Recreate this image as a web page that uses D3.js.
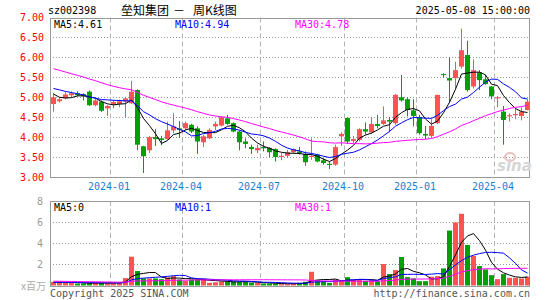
<!DOCTYPE html>
<html>
<head>
<meta charset="utf-8">
<title>垒知集团 - 周K线图</title>
<script src="https://d3js.org/d3.v7.min.js"></script>
<style>
  body { margin: 0; background: #fff; }
  svg text { font-family: "DejaVu Sans Mono", monospace; font-size: 10px; }
</style>
</head>
<body>
<div id="chart"></div>
<script>

// weekly candles, oldest first (2023-10 .. 2025-05)
var opens  = [4.83,4.90,4.98,5.05,5.10,5.08,5.14,4.80,4.89,4.72,
              4.82,4.83,4.89,4.85,5.18,3.77,3.67,4.00,3.97,3.95,
              4.17,4.22,4.22,4.31,4.22,3.87,3.97,4.27,4.29,4.47,
              4.35,4.14,3.89,3.75,3.67,3.75,3.73,3.70,3.50,3.53,
              3.62,3.64,3.58,3.50,3.56,3.42,3.33,3.31,4.02,4.48,
              3.90,3.93,4.20,4.12,4.33,4.33,4.43,4.35,5.00,4.95,
              4.67,4.50,4.08,4.03,4.35,5.58,5.48,5.48,5.77,6.06,
              5.27,5.62,5.45,5.27,4.97,4.64,4.52,4.55,4.53,4.68];
var highs  = [5.10,5.00,5.13,5.15,5.15,5.10,5.17,4.97,4.92,4.81,
              4.93,4.94,5.01,5.41,5.20,3.78,4.03,4.20,4.03,4.39,
              4.60,4.40,4.39,4.33,4.27,4.06,4.22,4.39,4.52,4.56,
              4.37,4.17,3.97,3.81,3.81,3.89,3.75,3.72,3.60,3.68,
              3.72,3.75,3.64,3.97,3.58,3.47,3.39,3.81,4.12,4.50,
              4.03,4.22,4.37,4.50,4.56,4.77,4.50,5.08,5.56,5.00,
              4.95,4.56,4.28,4.45,5.06,5.60,6.00,5.89,6.72,6.42,
              5.95,5.68,5.56,5.28,5.03,4.78,4.60,4.72,4.75,4.95];
var lows   = [4.64,4.87,4.95,5.00,5.02,4.92,4.78,4.77,4.63,4.53,
              4.72,4.75,4.49,4.83,3.67,3.10,3.60,3.78,3.80,3.93,
              4.10,3.98,4.18,4.10,3.58,3.75,3.95,4.18,4.27,4.31,
              4.12,3.67,3.72,3.58,3.60,3.64,3.50,3.39,3.42,3.48,
              3.58,3.56,3.28,3.43,3.37,3.31,3.20,3.28,3.78,3.83,
              3.85,3.89,4.06,4.08,4.22,4.31,4.12,4.31,4.89,4.52,
              4.27,4.06,3.95,4.00,4.33,5.50,4.85,5.22,5.72,5.14,
              5.22,5.18,5.31,4.95,4.75,3.81,4.39,4.45,4.42,4.67];
var closes = [5.00,4.95,5.07,5.10,5.05,5.02,4.80,4.92,4.66,4.78,
              4.88,4.90,4.97,5.14,3.81,3.52,4.00,3.95,3.93,4.17,
              4.27,4.18,4.35,4.14,3.89,4.02,4.18,4.33,4.50,4.33,
              4.14,3.87,3.83,3.70,3.73,3.72,3.62,3.50,3.53,3.62,
              3.70,3.60,3.37,3.53,3.39,3.35,3.30,3.75,4.08,3.89,
              3.95,4.20,4.14,4.33,4.28,4.42,4.39,5.06,4.92,4.68,
              4.53,4.10,4.04,4.28,5.06,5.57,5.42,5.68,6.18,5.18,
              5.68,5.43,5.33,5.02,5.00,4.43,4.55,4.58,4.64,4.89];
// volume, x 百万
var volumes = [0.35,0.35,0.25,0.25,0.19,0.19,0.25,0.25,0.25,0.25,
               0.25,0.25,0.70,2.73,1.37,0.67,0.67,0.67,0.60,0.76,
               0.89,0.57,0.44,0.57,0.57,0.63,0.25,0.30,0.38,0.38,
               0.38,0.35,0.35,0.25,0.25,0.19,0.19,0.19,0.13,0.13,
               0.20,0.25,0.35,1.30,0.50,0.44,0.25,0.57,0.44,0.79,
               0.50,0.60,0.44,0.50,0.41,2.03,1.08,1.46,2.70,0.79,
               0.67,0.41,0.41,0.83,0.89,1.62,5.20,5.97,6.79,3.84,
               2.79,1.84,1.52,0.98,0.60,1.08,0.73,0.73,0.67,0.83];

// the 29 weeks before the first candle, only used by the moving averages
var prevCloses  = [6.20,6.35,6.40,6.25,6.30,6.30,6.15,6.20,6.25,6.10,
                   5.95,5.85,5.80,5.80,5.70,5.60,5.55,5.60,5.55,5.40,
                   5.30,5.45,5.40,5.35,5.30,5.35,5.17,5.05,4.83];
var prevVolumes = [0.60,0.50,0.55,0.45,0.50,0.40,0.60,0.45,0.50,0.55,
                   0.45,0.50,0.40,0.45,0.50,0.40,0.45,0.40,0.35,0.30,
                   0.30,0.35,0.30,0.25,0.30,0.30,0.30,0.25,0.30];

var priceTicks = [3, 3.5, 4, 4.5, 5, 5.5, 6, 6.5, 7];
var volTicks = [2, 4, 6, 8];
var monthWeeks = [10, 22, 35, 49, 61, 74];
var monthLabels = ["2024-01", "2024-04", "2024-07", "2024-10", "2025-01", "2025-04"];
var maDays = [5, 10, 30];
var maColors = ["#000000", "#0000ff", "#ff00ff"];
var priceMaLabels = ["MA5:4.61", "MA10:4.94", "MA30:4.78"];
var volMaLabels = ["MA5:0", "MA10:1", "MA30:1"];
var titleParts = ["垒知集团", "－", "周K线图"];

var RED = "#ff5252", GREEN = "#00a000";
var W = 545, H = 300;
var left = 50, right = 530;

var svg = d3.select("#chart").append("svg")
    .attr("width", W).attr("height", H);

var x = d3.scaleBand().domain(d3.range(closes.length)).range([left, right]);
var y = d3.scaleLinear().domain([3, 7]).range([177, 17.5]);
var yv = d3.scaleLinear().domain([0, 8]).range([285.5, 201]);

function cx(i) { return x(i) + 3.5; }

// moving average over prev + visible values
function movingAvg(prev, vals, n) {
  var all = prev.concat(vals);
  return vals.map(function(v, i) {
    var j = i + prev.length;
    return d3.mean(all.slice(j - n + 1, j + 1));
  });
}

// ---- grids ----
function drawPanel(top, bottom, scale, grid) {
  var g = svg.append("g");
  g.selectAll(".hg").data(grid).enter().append("line")
    .attr("x1", left).attr("x2", right)
    .attr("y1", function(d) { return Math.round(scale(d)) + 0.5; })
    .attr("y2", function(d) { return Math.round(scale(d)) + 0.5; })
    .attr("stroke", "#999").attr("stroke-dasharray", "1,2");
  g.selectAll(".vg").data(monthWeeks).enter().append("line")
    .attr("x1", function(d) { return x(d) + 0.5; })
    .attr("x2", function(d) { return x(d) + 0.5; })
    .attr("y1", top).attr("y2", bottom)
    .attr("stroke", "#b4b4b4").attr("stroke-dasharray", "5,3");
  g.append("rect")
    .attr("x", left + 0.5).attr("y", Math.round(top) + 0.5)
    .attr("width", right - left - 1).attr("height", Math.round(bottom) - Math.round(top))
    .attr("fill", "none").attr("stroke", "#999");
}
drawPanel(y(7), y(3), y, [3.5, 4, 4.5, 5, 5.5, 6, 6.5]);
drawPanel(yv(8), yv(0), yv, [2, 4, 6]);

// price labels
svg.append("g")
  .attr("transform", "translate(" + (left - 3) + ",0)")
  .call(d3.axisLeft(y).tickValues(priceTicks).tickFormat(d3.format(".2f")).tickSize(0))
  .call(function(g) { g.select(".domain").remove(); })
  .selectAll("text")
    .attr("fill", "#ff0000").attr("font-size", "10px")
    .attr("font-family", "DejaVu Sans Mono");

// volume labels
svg.append("g")
  .attr("transform", "translate(" + (left - 4) + ",0)")
  .call(d3.axisLeft(yv).tickValues(volTicks).tickSize(0))
  .call(function(g) { g.select(".domain").remove(); })
  .selectAll("text")
    .attr("fill", "#999").attr("font-size", "11px")
    .attr("font-family", "DejaVu Sans");
svg.append("text").attr("x", 46).attr("y", 290).attr("text-anchor", "end")
  .attr("fill", "#aaa").style("font-family", "'Noto Sans CJK SC'").style("font-size", "10px")
  .text("x百万");

// month labels
svg.selectAll(".month").data(monthWeeks).enter().append("text")
  .attr("x", function(d) { return x(d) - 1; })
  .attr("y", 190)
  .attr("text-anchor", "middle")
  .attr("fill", "#1a80d0")
  .text(function(d, i) { return monthLabels[i]; });

// sina watermark
svg.append("ellipse").attr("cx", 510).attr("cy", 157).attr("rx", 5).attr("ry", 4)
  .attr("fill", "none").attr("stroke", "#e8c0c0").attr("stroke-width", 2);
svg.append("text").attr("x", 497).attr("y", 171)
  .style("font-family", "'DejaVu Sans'").style("font-size", "15px")
  .style("font-style", "italic").style("font-weight", "bold")
  .attr("fill", "#d6d6d6").text("sina");

// ---- candles ----
var candles = svg.append("g").selectAll("g").data(closes).enter().append("g");
candles.append("line")
  .attr("x1", function(d, i) { return cx(i); })
  .attr("x2", function(d, i) { return cx(i); })
  .attr("y1", function(d, i) { return y(highs[i]); })
  .attr("y2", function(d, i) { return y(lows[i]); })
  .attr("stroke", function(d, i) { return closes[i] >= opens[i] ? RED : GREEN; });
candles.append("rect")
  .attr("x", function(d, i) { return x(i) + 1; })
  .attr("width", x.bandwidth() - 1)
  .attr("y", function(d, i) { return y(Math.max(opens[i], closes[i])); })
  .attr("height", function(d, i) { return Math.max(1, Math.abs(y(opens[i]) - y(closes[i]))); })
  .attr("fill", function(d, i) { return closes[i] >= opens[i] ? RED : GREEN; });

// volume bars
svg.append("g").selectAll("rect").data(volumes).enter().append("rect")
  .attr("x", function(d, i) { return x(i) + 1; })
  .attr("width", x.bandwidth() - 1)
  .attr("y", function(d) { return yv(d); })
  .attr("height", function(d) { return yv(0) - yv(d); })
  .attr("fill", function(d, i) { return closes[i] >= opens[i] ? RED : GREEN; });

// moving average lines
maDays.forEach(function(n, k) {
  var pm = movingAvg(prevCloses, closes, n);
  var vm = movingAvg(prevVolumes, volumes, n);
  svg.append("path").datum(pm)
    .attr("fill", "none").attr("stroke", maColors[k]).attr("stroke-width", 1)
    .attr("d", d3.line().x(function(d, i) { return cx(i); }).y(function(d) { return y(d); }));
  svg.append("path").datum(vm)
    .attr("fill", "none").attr("stroke", maColors[k]).attr("stroke-width", 1)
    .attr("d", d3.line().x(function(d, i) { return cx(i); }).y(function(d) { return yv(d); }));
});

// legends
var legendX = [54, 175, 295];
svg.selectAll(".plg").data(priceMaLabels).enter().append("text")
  .attr("x", function(d, i) { return legendX[i]; }).attr("y", 28)
  .attr("fill", function(d, i) { return maColors[i]; }).text(function(d) { return d; });
svg.selectAll(".vlg").data(volMaLabels).enter().append("text")
  .attr("x", function(d, i) { return legendX[i]; }).attr("y", 211)
  .attr("fill", function(d, i) { return maColors[i]; }).text(function(d) { return d; });

// header / footer
svg.append("text").attr("x", 48).attr("y", 14).attr("fill", "#000").text("sz002398");
var titleX = [121, 173, 193];
svg.append("text").attr("y", 15).attr("fill", "#000")
  .style("font-family", "'Noto Sans CJK SC'").style("font-size", "12px")
  .selectAll("tspan").data(titleParts).enter().append("tspan")
    .attr("x", function(d, i) { return titleX[i]; })
    .text(function(d) { return d; });
svg.append("text").attr("x", 530).attr("y", 14).attr("text-anchor", "end")
  .attr("fill", "#000").text("2025-05-08 15:00:00");
svg.append("text").attr("x", 50).attr("y", 297).attr("fill", "#555")
  .text("Copyright 2025 SINA.COM");
svg.append("text").attr("x", 530).attr("y", 297).attr("text-anchor", "end")
  .attr("fill", "#555").text("http://finance.sina.com.cn");

</script>
</body>
</html>
